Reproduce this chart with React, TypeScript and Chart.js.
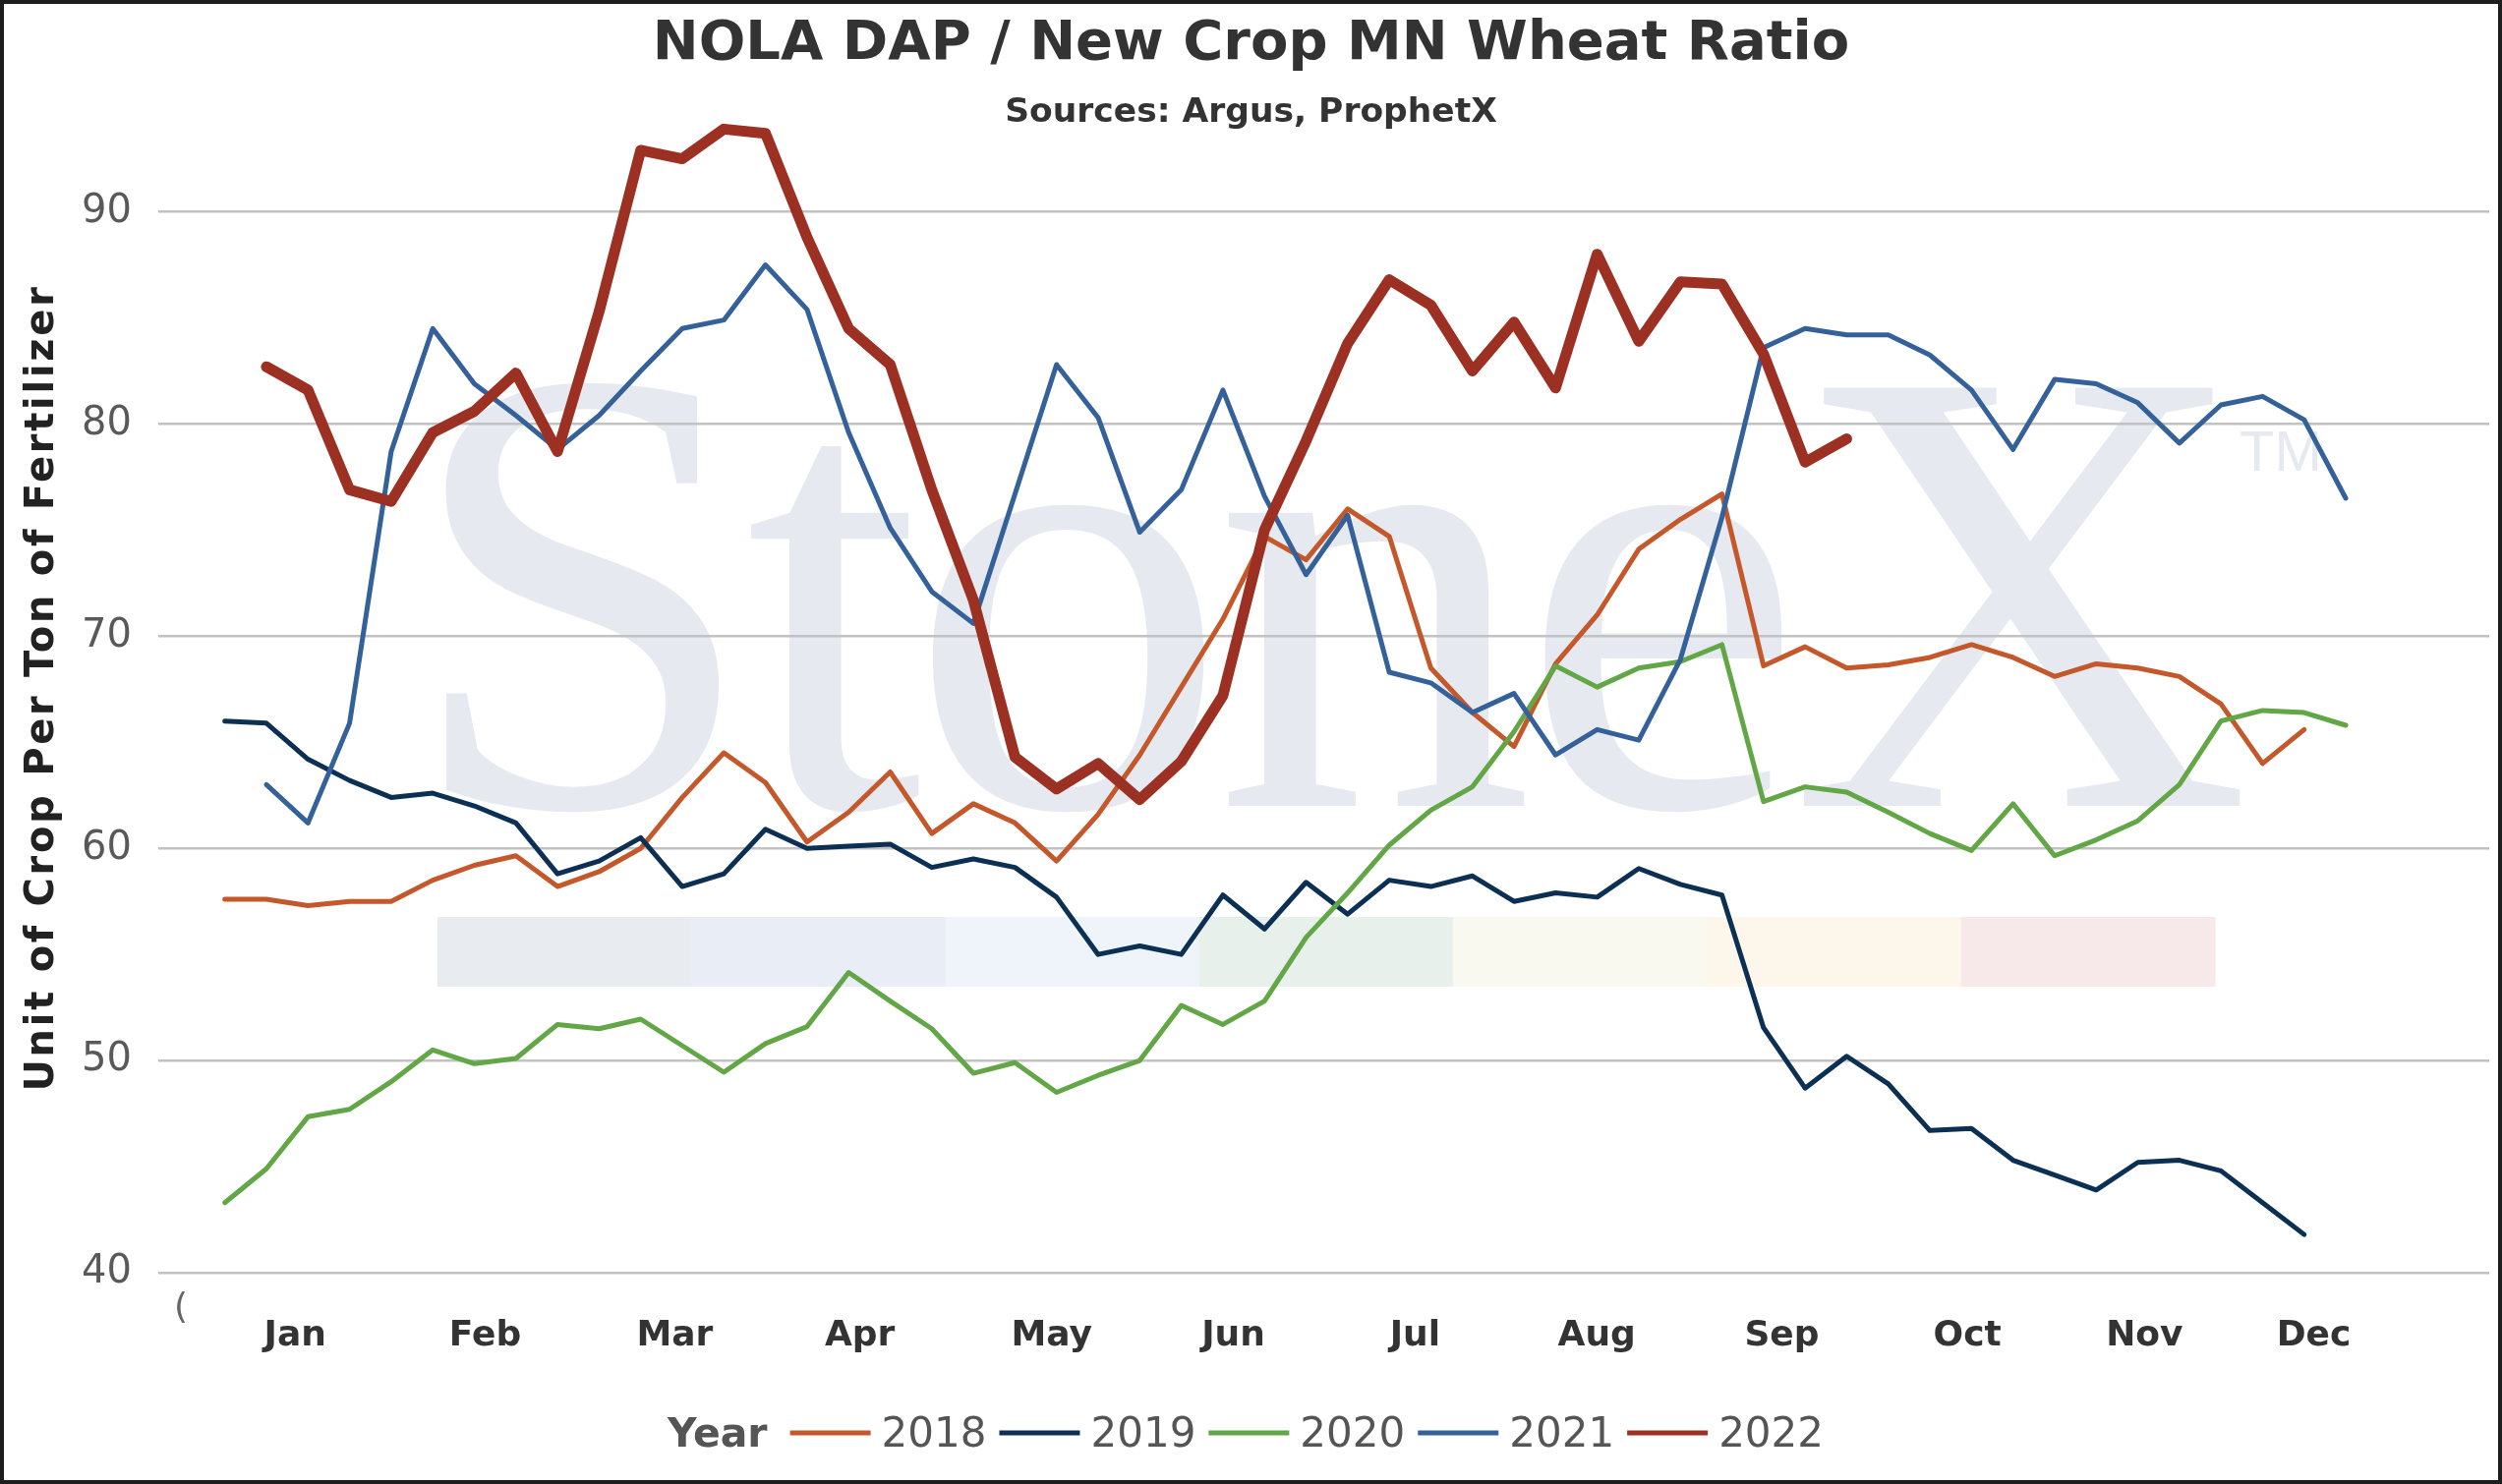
import { useEffect, useRef } from "react"
import { Chart, LineController, LineElement, PointElement, LinearScale } from "chart.js"

Chart.register(LineController, LineElement, PointElement, LinearScale)

const W = 2545
const H = 1510
const FONT = '"DejaVu Sans", Verdana, sans-serif'

// x axis is in week-of-year units, month labels sit at these week positions
const MONTHS = ["Jan", "Feb", "Mar", "Apr", "May", "Jun", "Jul", "Aug", "Sep", "Oct", "Nov", "Dec"]
const MONTH_POS = [2.69, 7.26, 11.82, 16.27, 20.88, 25.25, 29.62, 33.99, 38.44, 42.9, 47.16, 51.23]
const Y_TICKS = [40, 50, 60, 70, 80, 90]

const YEARS = ["2018", "2019", "2020", "2021", "2022"]
const START_WEEK = [1, 1, 1, 2, 2]
const COLORS = ["#c4582a", "#0c3053", "#62a646", "#34619a", "#9c3123"]

const R2018 = [
	57.6, 57.6, 57.3, 57.5, 57.5, 58.5, 59.2, 59.65, 58.2, 58.9, 60.0, 62.4, 64.5, 63.1, 60.3, 61.7, 63.6,
	60.7, 62.1, 61.2, 59.4, 61.6, 64.4, 67.6, 70.8, 74.7, 73.6, 76.0, 74.7, 68.5, 66.4, 64.8, 68.7, 71.0,
	74.1, 75.5, 76.7, 68.6, 69.5, 68.5, 68.65, 69.0, 69.6, 69.0, 68.1, 68.7, 68.5, 68.1, 66.8, 64.0, 65.6,
]
const R2019 = [
	66.0, 65.9, 64.2, 63.2, 62.4, 62.6, 62.0, 61.2, 58.8, 59.4, 60.5, 58.2, 58.8, 60.9, 60.0, 60.1, 60.2,
	59.1, 59.5, 59.1, 57.7, 55.0, 55.4, 55.0, 57.8, 56.2, 58.4, 56.9, 58.5, 58.2, 58.7, 57.5, 57.9, 57.7,
	59.05, 58.3, 57.8, 51.55, 48.7, 50.2, 48.9, 46.7, 46.8, 45.3, 44.6, 43.9, 45.2, 45.3, 44.8, 43.3, 41.8,
]
const R2020 = [
	43.3, 44.9, 47.35, 47.7, 49.0, 50.5, 49.85, 50.1, 51.7, 51.5, 51.95, 50.7, 49.45, 50.8, 51.6, 54.15,
	52.8, 51.5, 49.4, 49.9, 48.5, 49.3, 50.0, 52.6, 51.7, 52.8, 55.8, 57.9, 60.15, 61.8, 62.9, 65.5, 68.6,
	67.6, 68.5, 68.8, 69.6, 62.2, 62.9, 62.65, 61.7, 60.7, 59.9, 62.1, 59.65, 60.4, 61.3, 63.0, 66.0, 66.5,
	66.4, 65.8,
]
const R2021 = [
	63.0, 61.2, 65.9, 78.7, 84.5, 81.9, 80.4, 78.8, 80.4, 82.5, 84.5, 84.9, 87.5, 85.4, 79.6, 75.1, 72.1,
	70.6, 76.7, 82.8, 80.3, 74.9, 76.9, 81.6, 76.6, 72.9, 75.7, 68.3, 67.8, 66.4, 67.3, 64.4, 65.6, 65.1,
	68.9, 75.6, 83.6, 84.5, 84.2, 84.2, 83.25, 81.6, 78.8, 82.1, 81.9, 81.0, 79.1, 80.9, 81.3, 80.2, 76.5,
]
const R2022 = [
	82.7, 81.6, 76.9, 76.35, 79.6, 80.6, 82.4, 78.7, 85.3, 92.9, 92.5, 93.9, 93.7, 88.8, 84.5, 82.8, 76.9,
	71.7, 64.3, 62.8, 64.0, 62.3, 64.1, 67.2, 75.0, 79.2, 83.8, 86.8, 85.6, 82.5, 84.8, 81.7, 88.0, 83.9,
	86.7, 86.6, 83.3, 78.2, 79.3,
]
const SERIES = [R2018, R2019, R2020, R2021, R2022]

// faint coloured strip that belongs to the StoneX watermark
const STRIP_COLORS = ["#e8ebf0", "#e9edf5", "#eef4f9", "#e7f0ea", "#f9f9ef", "#fdf6ea", "#f7e9e9"]

const backdrop = {
	id: "backdrop",
	beforeDraw(chart: Chart) {
		const { ctx } = chart
		ctx.save()
		ctx.fillStyle = "#ffffff"
		ctx.fillRect(0, 0, W, H)

		const segW = 258.3
		STRIP_COLORS.forEach((c, i) => {
			ctx.fillStyle = c
			ctx.fillRect(445 + i * segW, 933, segW + 0.5, 71)
		})

		ctx.fillStyle = "#e6e9ef"
		ctx.font = '650px "Liberation Serif", serif'
		ctx.textBaseline = "alphabetic"
		;(ctx as any).letterSpacing = "-14px"
		ctx.fillText("StoneX", 410, 820)
		;(ctx as any).letterSpacing = "0px"
		ctx.font = '58px "Liberation Sans", sans-serif'
		ctx.fillText("TM", 2278, 479)
		ctx.restore()
	},
}

const decorations = {
	id: "decorations",
	afterDraw(chart: Chart) {
		const { ctx } = chart
		ctx.save()
		ctx.textAlign = "center"
		ctx.textBaseline = "alphabetic"

		ctx.fillStyle = "#333333"
		ctx.font = `bold 56px ${FONT}`
		ctx.fillText("NOLA DAP / New Crop MN Wheat Ratio", W / 2, 60)
		ctx.font = `bold 34.5px ${FONT}`
		ctx.fillText("Sources: Argus, ProphetX", W / 2, 124)

		// y axis title
		ctx.save()
		ctx.translate(54, 700)
		ctx.rotate(-Math.PI / 2)
		ctx.fillStyle = "#222222"
		ctx.font = `bold 40px ${FONT}`
		;(ctx as any).letterSpacing = "2.7px"
		ctx.fillText("Unit of Crop Per Ton of Fertilizer", 0, 0)
		;(ctx as any).letterSpacing = "0px"
		ctx.restore()

		// clipped stray label left of Jan
		ctx.fillStyle = "#666666"
		ctx.font = `36px ${FONT}`
		ctx.textAlign = "left"
		ctx.fillText("(", 177, 1341)

		// legend
		const baseY = 1472
		const lineY = 1458
		ctx.font = `bold 41px ${FONT}`
		const yearW = ctx.measureText("Year").width
		ctx.font = `42px ${FONT}`
		const widths = YEARS.map((t) => ctx.measureText(t).width)
		const lineLen = 82
		const total = yearW + 23 + widths.reduce((s, w) => s + lineLen + 11 + w, 0) + 13 * (YEARS.length - 1)
		let x = 1267 - total / 2
		ctx.fillStyle = "#555555"
		ctx.font = `bold 41px ${FONT}`
		ctx.fillText("Year", x, baseY)
		x += yearW + 23
		ctx.font = `42px ${FONT}`
		YEARS.forEach((t, i) => {
			ctx.fillStyle = COLORS[i]
			ctx.fillRect(x, lineY - 2.5, lineLen, 5)
			x += lineLen + 11
			ctx.fillStyle = "#555555"
			ctx.fillText(t, x, baseY)
			x += widths[i] + 13
		})

		ctx.strokeStyle = "#1e1e1e"
		ctx.lineWidth = 4
		ctx.strokeRect(2, 2, W - 4, H - 4)
		ctx.restore()
	},
}

export default function App() {
	const canvasRef = useRef<HTMLCanvasElement>(null)

	useEffect(() => {
		document.body.style.margin = "0"
		if (!canvasRef.current) return

		const chart = new Chart(canvasRef.current, {
			type: "line",
			data: {
				datasets: YEARS.map((label, i) => ({
					label,
					data: SERIES[i].map((v, k) => ({ x: START_WEEK[i] + k, y: v })),
					borderColor: COLORS[i],
					backgroundColor: COLORS[i],
					borderWidth: i === 4 ? 11 : 5,
					borderJoinStyle: "round" as const,
					borderCapStyle: "round" as const,
					pointRadius: 0,
					tension: 0,
					order: YEARS.length - i,
				})),
			},
			options: {
				responsive: false,
				devicePixelRatio: 1,
				animation: false,
				layout: { padding: { left: 0, right: 13, top: 107.6, bottom: 115 } },
				plugins: { legend: { display: false }, tooltip: { enabled: false } },
				scales: {
					x: {
						type: "linear",
						min: -0.6,
						max: 55.45,
						afterBuildTicks: (s) => {
							s.ticks = MONTH_POS.map((v) => ({ value: v }))
						},
						afterFit: (s) => {
							s.height = 100
						},
						ticks: {
							autoSkip: false,
							maxRotation: 0,
							padding: 43,
							color: "#333333",
							font: { family: FONT, size: 36, weight: "bold" },
							callback: (_v, i) => MONTHS[i],
						},
						grid: { display: false, drawTicks: false },
						border: { display: false },
					},
					y: {
						type: "linear",
						min: 40,
						max: 95,
						afterBuildTicks: (s) => {
							s.ticks = Y_TICKS.map((v) => ({ value: v }))
						},
						afterFit: (s) => {
							s.width = 161
						},
						ticks: {
							padding: 27,
							color: "#595959",
							font: { family: FONT, size: 40 },
						},
						grid: { color: "#c2c2c2", lineWidth: 2.5, drawTicks: false },
						border: { display: false },
					},
				},
			},
			plugins: [backdrop, decorations],
		})

		return () => {
			chart.destroy()
		}
	}, [])

	return (
		<canvas
			ref={canvasRef}
			width={W}
			height={H}
			style={{ display: "block", width: W, height: H }}
			aria-label="NOLA DAP / New Crop MN Wheat Ratio line chart"
		/>
	)
}
